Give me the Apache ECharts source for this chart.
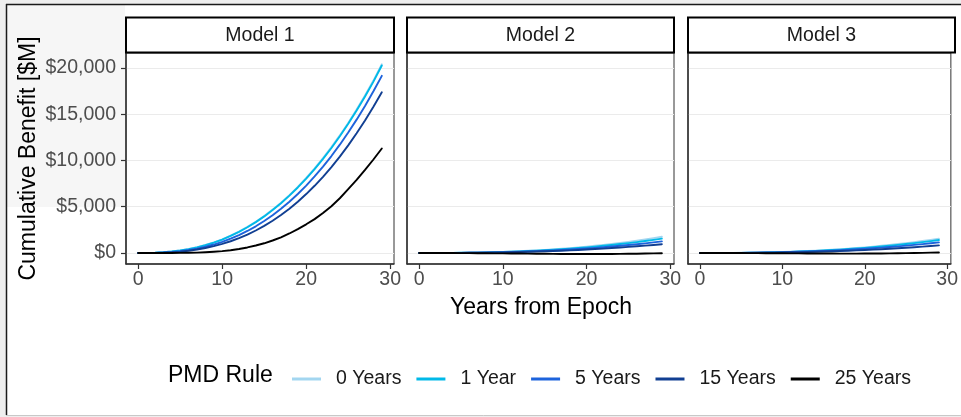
<!DOCTYPE html>
<html>
<head>
<meta charset="utf-8">
<script src="https://cdn.jsdelivr.net/npm/echarts@6/dist/echarts.min.js"></script>
<style>
  html, body { margin: 0; padding: 0; background: #eeeeee; }
  #chart { width: 961px; height: 417px; }
</style>
</head>
<body>
<div id="chart"></div>
<script>
// Years since epoch (x values shared by every curve)
const years = [0,1,2,3,4,5,6,7,8,9,10,11,12,13,14,15,16,17,18,19,20,21,22,23,24,25,26,27,28,29];

const ruleNames  = ['0 Years', '1 Year', '5 Years', '15 Years', '25 Years'];
const ruleColors = ['#a3d6f0', '#00b9e8', '#1d63dc', '#113f92', '#000000'];
const panelTitles = ['Model 1', 'Model 2', 'Model 3'];
const xTicks = [0, 10, 20, 30];
const yTicks = [0, 5000, 10000, 15000, 20000];

// Cumulative benefit [$M], Model 1
const model1_0y  = [0,5,30,80,160,275,430,625,865,1150,1480,1870,2320,2820,3380,4000,4690,5440,6260,7150,8110,9140,10250,11440,12710,14060,15500,17020,18640,20400];
const model1_1y  = [0,5,28,77,155,268,420,612,850,1130,1455,1840,2285,2785,3340,3955,4640,5385,6200,7085,8040,9065,10170,11355,12620,13965,15400,16915,18525,20270];
const model1_5y  = [0,3,18,52,111,198,319,476,672,914,1201,1542,1934,2380,2886,3453,4077,4780,5542,6375,7289,8275,9340,10481,11708,13018,14416,15900,17480,19150];
const model1_15y = [0,2,13,38,83,151,247,374,536,738,979,1270,1606,1993,2432,2932,3483,4108,4791,5545,6370,7266,8237,9290,10422,11636,12936,14320,15800,17370];
const model1_25y = [0,0,0,1,3,9,22,45,80,130,200,300,430,600,810,1050,1350,1700,2110,2580,3100,3660,4320,5060,5920,6900,7900,8980,10110,11300];

// Cumulative benefit [$M], Model 2
const model2_0y  = [0,0,2,6,12,22,34,50,70,94,122,155,193,236,284,337,396,461,531,608,691,781,877,980,1090,1208,1332,1464,1603,1750];
const model2_1y  = [0,0,2,5,11,19,30,44,62,83,108,137,171,209,251,298,350,408,470,538,612,692,777,868,966,1070,1180,1296,1420,1550];
const model2_5y  = [0,0,2,4,9,15,24,36,50,67,87,111,138,168,203,241,283,329,379,434,494,558,627,700,779,863,951,1045,1145,1250];
const model2_15y = [0,0,1,3,7,12,19,27,38,51,66,84,105,128,154,183,215,250,288,330,375,424,476,532,592,656,723,794,870,950];
const model2_25y = [0,0,-1,-3,-6,-10,-15,-21,-28,-36,-45,-54,-63,-72,-80,-88,-95,-101,-106,-110,-112,-112,-110,-106,-99,-89,-77,-62,-43,-20];

// Cumulative benefit [$M], Model 3
const model3_0y  = [0,0,2,5,11,19,30,44,62,83,108,137,171,209,251,298,350,408,470,538,612,692,777,868,966,1070,1180,1296,1420,1550];
const model3_1y  = [0,0,2,5,10,17,27,40,56,75,98,124,154,189,227,270,316,368,425,486,553,625,702,784,872,966,1066,1171,1282,1400];
const model3_5y  = [0,0,1,4,8,14,22,33,46,62,80,102,127,155,186,221,260,303,349,399,454,513,576,644,717,794,875,962,1053,1150];
const model3_15y = [0,0,1,3,6,10,16,23,33,44,57,73,90,110,133,158,185,216,249,285,324,366,411,459,511,566,624,686,751,820];
const model3_25y = [0,0,-1,-2,-4,-7,-11,-15,-20,-26,-32,-38,-44,-50,-55,-60,-63,-65,-66,-65,-62,-57,-50,-41,-30,-17,-2,15,36,60];

const modelSeries = [
  [model1_0y, model1_1y, model1_5y, model1_15y, model1_25y],
  [model2_0y, model2_1y, model2_5y, model2_15y, model2_25y],
  [model3_0y, model3_1y, model3_5y, model3_15y, model3_25y]
];

// Facet layout
const panelLeft = [126, 407, 688];
const panelWidth = [268, 267, 267];
const panelTop = 53, panelHeight = 211;
const stripTop = 17.5, stripHeight = 35;

const FONT = 'Liberation Sans, Arial, Helvetica, sans-serif';
const TICK_COLOR = '#4d4d4d';
const AXIS_COLOR = '#333333';
const SMALL = 19.5;

const grids = [], xAxes = [], yAxes = [], series = [];
panelTitles.forEach((title, i) => {
  grids.push({
    left: panelLeft[i], top: panelTop, width: panelWidth[i], height: panelHeight,
    show: true, backgroundColor: '#ffffff', borderColor: AXIS_COLOR, borderWidth: 1,
    containLabel: false
  });
  xAxes.push({
    type: 'value', gridIndex: i, min: -1.45, max: 30.45,
    splitLine: { show: false },
    axisLine: { show: true, onZero: false, lineStyle: { color: AXIS_COLOR, width: 1.5 } },
    axisTick: { show: true, length: 5, customValues: xTicks, lineStyle: { color: AXIS_COLOR, width: 1.2 } },
    axisLabel: { customValues: xTicks, fontSize: SMALL, color: TICK_COLOR, fontFamily: FONT, margin: 6 }
  });
  yAxes.push({
    type: 'value', gridIndex: i, min: -1190, max: 21620,
    axisLine: { show: true, onZero: false, lineStyle: { color: AXIS_COLOR, width: 1.5 } },
    axisTick: { show: i === 0, length: 5, customValues: yTicks, lineStyle: { color: AXIS_COLOR, width: 1.2 } },
    axisLabel: {
      show: i === 0, customValues: yTicks, fontSize: SMALL, color: TICK_COLOR, fontFamily: FONT, margin: 10,
      formatter: v => '$' + Number(v).toLocaleString('en-US')
    },
    splitLine: { show: true, lineStyle: { color: '#ebebeb', width: 1.2 } }
  });
  modelSeries[i].forEach((vals, k) => {
    series.push({
      name: ruleNames[k], type: 'line', xAxisIndex: i, yAxisIndex: i,
      data: years.map((y, j) => [y, vals[j]]),
      showSymbol: false, symbol: 'none', smooth: false,
      lineStyle: { color: ruleColors[k], width: 1.9, join: 'round', cap: 'round' },
      itemStyle: { color: ruleColors[k] },
      emphasis: { disabled: true }, silent: true, animation: false
    });
  });
});

// Facet strips, page frame and titles
const graphics = [
  { type: 'rect', z: -20, shape: { x: 6, y: 4, width: 960, height: 411 }, style: { fill: '#ffffff' }, silent: true },
  { type: 'rect', z: -19, shape: { x: 7, y: 5, width: 118, height: 202 }, style: { fill: '#f6f6f6' }, silent: true },
  { type: 'line', z: 10, shape: { x1: 6.5, y1: 4, x2: 6.5, y2: 415 }, style: { stroke: '#1a1a1a', lineWidth: 1.5 }, silent: true },
  { type: 'line', z: 10, shape: { x1: 6, y1: 4.5, x2: 961, y2: 4.5 }, style: { stroke: '#1a1a1a', lineWidth: 1.5 }, silent: true },
  { type: 'line', z: 10, shape: { x1: 6, y1: 415.5, x2: 961, y2: 415.5 }, style: { stroke: '#c8c8c8', lineWidth: 1 }, silent: true },
  {
    type: 'text', z: 10, x: 29, y: panelTop + panelHeight / 2, rotation: Math.PI / 2,
    style: { text: 'Cumulative Benefit [$M]', font: '23px ' + FONT, fill: '#000', align: 'center', verticalAlign: 'middle' }
  },
  {
    type: 'text', z: 10, x: 541, y: 308,
    style: { text: 'Years from Epoch', font: '23px ' + FONT, fill: '#000', align: 'center', verticalAlign: 'middle' }
  },
  {
    type: 'text', z: 10, x: 168, y: 376,
    style: { text: 'PMD Rule', font: '23px ' + FONT, fill: '#000', align: 'left', verticalAlign: 'middle' }
  }
];
panelTitles.forEach((title, i) => {
  graphics.push({
    type: 'rect', z: 10,
    shape: { x: panelLeft[i], y: stripTop, width: panelWidth[i], height: stripHeight },
    style: { fill: '#ffffff', stroke: '#000', lineWidth: 2 }, silent: true
  });
  graphics.push({
    type: 'text', z: 11, x: panelLeft[i] + panelWidth[i] / 2, y: stripTop + stripHeight / 2 + 0.5,
    style: { text: title, font: SMALL + 'px ' + FONT, fill: '#1a1a1a', align: 'center', verticalAlign: 'middle' }
  });
});

const chart = echarts.init(document.getElementById('chart'), null, { renderer: 'canvas' });
chart.setOption({
  animation: false,
  backgroundColor: '#eeeeee',
  grid: grids,
  xAxis: xAxes,
  yAxis: yAxes,
  legend: {
    data: ruleNames,
    left: 292, top: 369, padding: 0,
    orient: 'horizontal',
    icon: 'rect', itemWidth: 29, itemHeight: 3, itemGap: 15,
    textStyle: { fontSize: SMALL, fontFamily: FONT, color: '#1a1a1a', padding: [0, 0, 0, 10] },
    selectedMode: false
  },
  graphic: graphics,
  series: series
});
</script>
</body>
</html>
